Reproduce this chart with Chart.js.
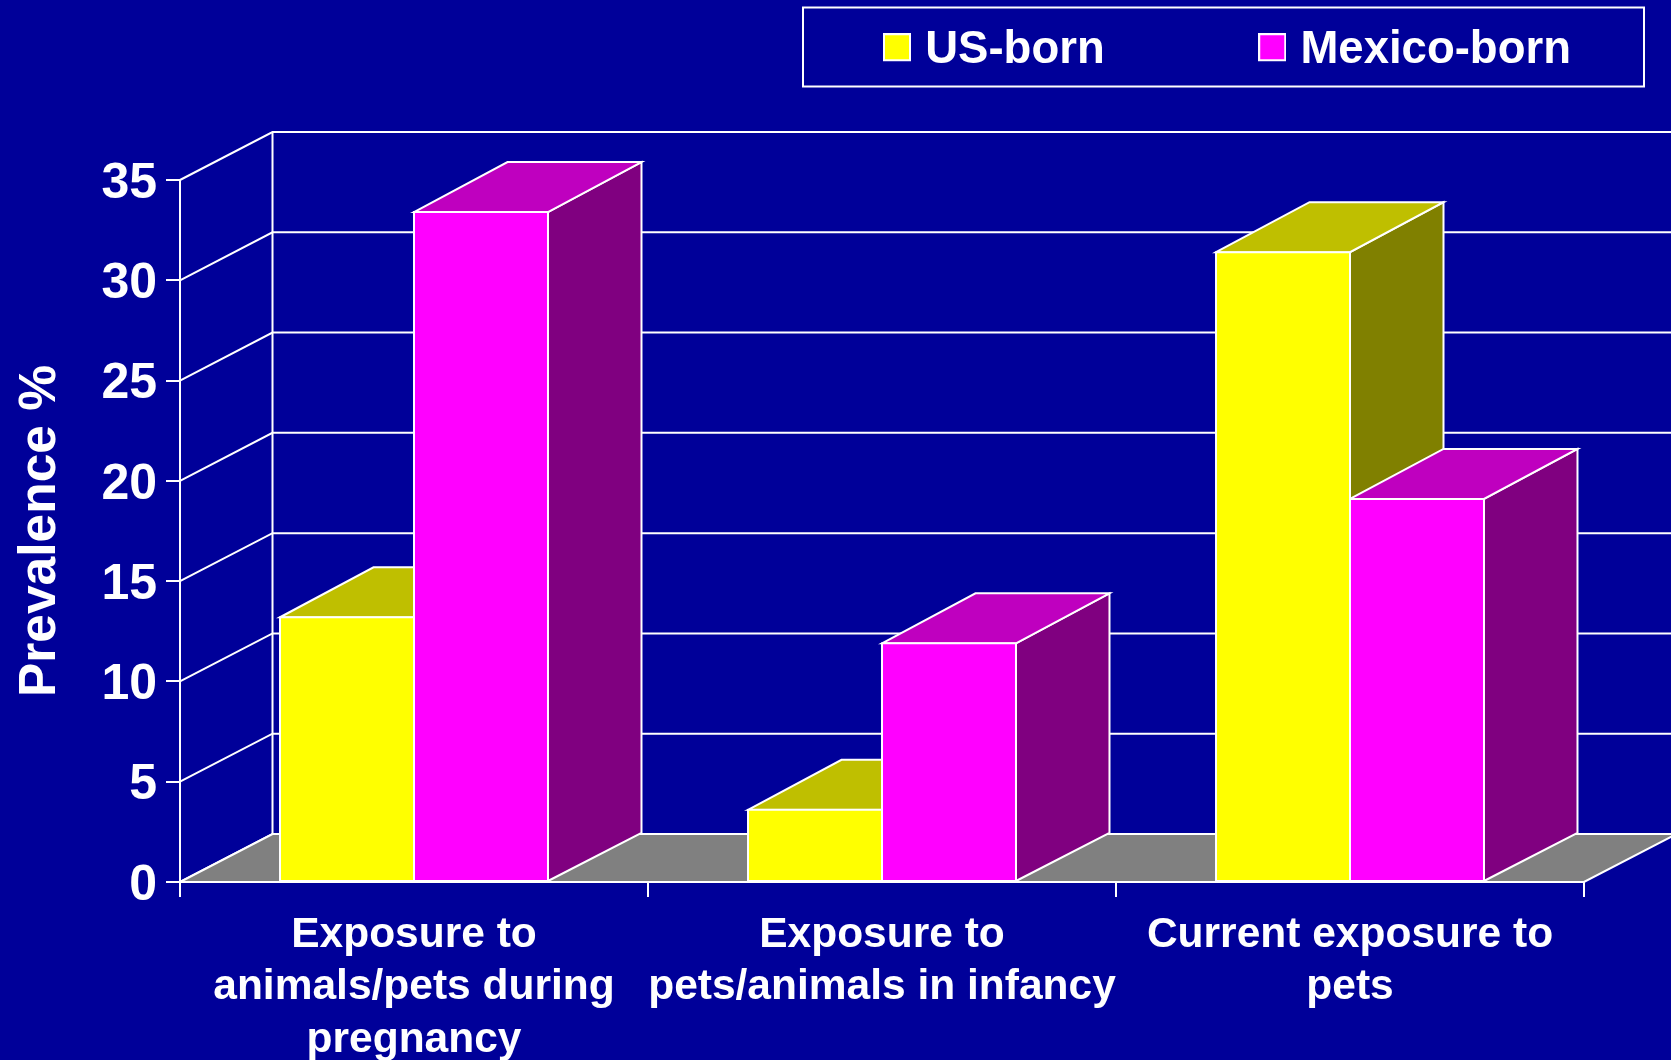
<!DOCTYPE html>
<html>
<head>
<meta charset="utf-8">
<title>Prevalence</title>
<script src="https://cdn.jsdelivr.net/npm/chart.js@4/dist/chart.umd.min.js"></script>
<style>
  html, body { margin: 0; padding: 0; background: #000099; overflow: hidden; }
  canvas { display: block; }
</style>
</head>
<body>
<canvas id="chart1" width="1671" height="1060"></canvas>
<script>
const categories = [
  ["Exposure to", "animals/pets during", "pregnancy"],
  ["Exposure to", "pets/animals in infancy"],
  ["Current exposure to", "pets"],
];
const usBorn = [13.2, 3.6, 31.4];
const mexicoBorn = [33.4, 11.9, 19.1];
const seriesNames = ["US-born", "Mexico-born"];
const seriesColors = ["#ffff00", "#ff00ff"];
const topColors = ["#bfbf00", "#bf00bf"];
const sideColors = ["#808000", "#800080"];

const white = "#ffffff";
const wallDepth = { x: 92.5, y: 48 };
const barDepth = { x: 93.5, y: 50 };
const fontName = "'Liberation Sans', Arial, sans-serif";

/**
 * fills and outlines a polygon
 * @param {CanvasRenderingContext2D} ctx
 * @param {Array} points
 * @param {String} fill
 */
const drawFace = (ctx, points, fill) => {
  ctx.beginPath();
  points.forEach(([x, y], i) => (i ? ctx.lineTo(x, y) : ctx.moveTo(x, y)));
  ctx.closePath();
  if (fill) {
    ctx.fillStyle = fill;
    ctx.fill();
  }
  ctx.strokeStyle = white;
  ctx.lineWidth = 2;
  ctx.lineJoin = "miter";
  ctx.stroke();
};

/**
 * legend swatch as an image, the clear strip under the box lifts it above the text centre
 * @param {String} color
 * @returns HTMLCanvasElement
 */
const makeSwatch = (color) => {
  const swatch = document.createElement("canvas");
  swatch.width = 28;
  swatch.height = 34;
  const ctx = swatch.getContext("2d");
  ctx.fillStyle = color;
  ctx.strokeStyle = white;
  ctx.lineWidth = 2;
  ctx.fillRect(1, 1, 26, 26);
  ctx.strokeRect(1, 1, 26, 26);
  return swatch;
};

// back wall, side wall and floor of the fake 3D box
const walls = {
  id: "walls",
  beforeDatasetsDraw(chart) {
    const { ctx, scales, chartArea, width } = chart;
    const { left, right, top, bottom } = chartArea;
    const backX = left + wallDepth.x;

    ctx.save();
    ctx.strokeStyle = white;
    ctx.lineWidth = 2;
    scales.y.ticks.forEach((tick) => {
      const y = scales.y.getPixelForValue(tick.value);
      ctx.beginPath();
      ctx.moveTo(left, y);
      ctx.lineTo(backX, y - wallDepth.y);
      ctx.lineTo(width, y - wallDepth.y);
      ctx.stroke();
    });
    ctx.beginPath();
    ctx.moveTo(backX, top - wallDepth.y);
    ctx.lineTo(backX, bottom - wallDepth.y);
    ctx.stroke();

    drawFace(
      ctx,
      [
        [left, bottom],
        [right, bottom],
        [right + wallDepth.x, bottom - wallDepth.y],
        [backX, bottom - wallDepth.y],
      ],
      "#808080"
    );
    ctx.restore();
  },
};

// top and side faces of each bar, the front face is the real bar element.
// all of them go down before any front, yellow first so magenta covers it
const barFaces = {
  id: "barFaces",
  beforeDatasetsDraw(chart) {
    const { ctx } = chart;
    ctx.save();
    chart.data.datasets.forEach((dataset, i) => {
      chart.getDatasetMeta(i).data.forEach((bar) => {
        const l = bar.x - bar.width / 2;
        const r = bar.x + bar.width / 2;
        drawFace(
          ctx,
          [
            [r, bar.y],
            [r + barDepth.x, bar.y - barDepth.y],
            [r + barDepth.x, bar.base - wallDepth.y],
            [r, bar.base],
          ],
          sideColors[i]
        );
        drawFace(
          ctx,
          [
            [l, bar.y],
            [l + barDepth.x, bar.y - barDepth.y],
            [r + barDepth.x, bar.y - barDepth.y],
            [r, bar.y],
          ],
          topColors[i]
        );
      });
    });
    ctx.restore();
  },
};

// legend sits in its own frame, so it must not take room from the plot
const legendFrame = {
  id: "legendFrame",
  beforeInit(chart) {
    const fit = chart.legend.fit;
    chart.legend.fit = function () {
      fit.call(this);
      this.height = 0;
    };
  },
  afterLayout(chart) {
    const legend = chart.legend;
    const padding = legend.options.labels.padding;
    legend.left = 891.5 - padding;
    legend.right = chart.width + padding * 2;
    legend.width = legend.right - legend.left;
    legend.top = 27.5 - padding;
    legend.bottom = 100;
  },
  afterDraw(chart) {
    const { ctx } = chart;
    ctx.save();
    ctx.strokeStyle = white;
    ctx.lineWidth = 2;
    ctx.strokeRect(803, 7.5, 841, 79);
    ctx.restore();
  },
};

new Chart(document.getElementById("chart1").getContext("2d"), {
  type: "bar",
  data: {
    labels: categories,
    datasets: [
      {
        label: seriesNames[0],
        data: usBorn,
        backgroundColor: seriesColors[0],
      },
      {
        label: seriesNames[1],
        data: mexicoBorn,
        backgroundColor: seriesColors[1],
      },
    ],
  },
  options: {
    responsive: false,
    animation: false,
    layout: { padding: { left: 0, top: 180, right: 87, bottom: 0 } },
    datasets: {
      bar: {
        barPercentage: 1,
        categoryPercentage: 0.5726,
        borderColor: white,
        borderWidth: 2,
        borderSkipped: false,
        inflateAmount: 1,
      },
    },
    plugins: {
      tooltip: { enabled: false },
      legend: {
        position: "top",
        align: "start",
        labels: {
          color: white,
          usePointStyle: true,
          boxWidth: 11,
          boxHeight: 28,
          padding: 162,
          font: { family: fontName, size: 45.5, weight: "bold" },
          generateLabels: (chart) =>
            Chart.defaults.plugins.legend.labels
              .generateLabels(chart)
              .map((item, i) => ({
                ...item,
                pointStyle: makeSwatch(seriesColors[i]),
              })),
        },
      },
    },
    scales: {
      x: {
        offset: true,
        grid: {
          offset: true,
          color: white,
          lineWidth: 2,
          drawOnChartArea: false,
          tickLength: 15,
        },
        border: { color: white, width: 2 },
        ticks: {
          color: white,
          autoSkip: false,
          maxRotation: 0,
          minRotation: 0,
          padding: 12,
          font: { family: fontName, size: 42.5, weight: "bold", lineHeight: 1.235 },
        },
        afterFit: (scale) => {
          scale.height = 178;
        },
      },
      y: {
        min: 0,
        max: 35,
        ticks: {
          stepSize: 5,
          color: white,
          padding: 9,
          labelOffset: 4,
          font: { family: fontName, size: 50, weight: "bold" },
        },
        grid: {
          color: white,
          lineWidth: 2,
          drawOnChartArea: false,
          tickLength: 14,
        },
        border: { color: white, width: 2 },
        title: {
          display: true,
          text: "Prevalence %",
          color: white,
          padding: { top: 10, bottom: 0 },
          font: { family: fontName, size: 51.5, weight: "bold" },
        },
        afterFit: (scale) => {
          scale.width = 180;
        },
      },
    },
  },
  plugins: [walls, barFaces, legendFrame],
});
</script>
</body>
</html>
